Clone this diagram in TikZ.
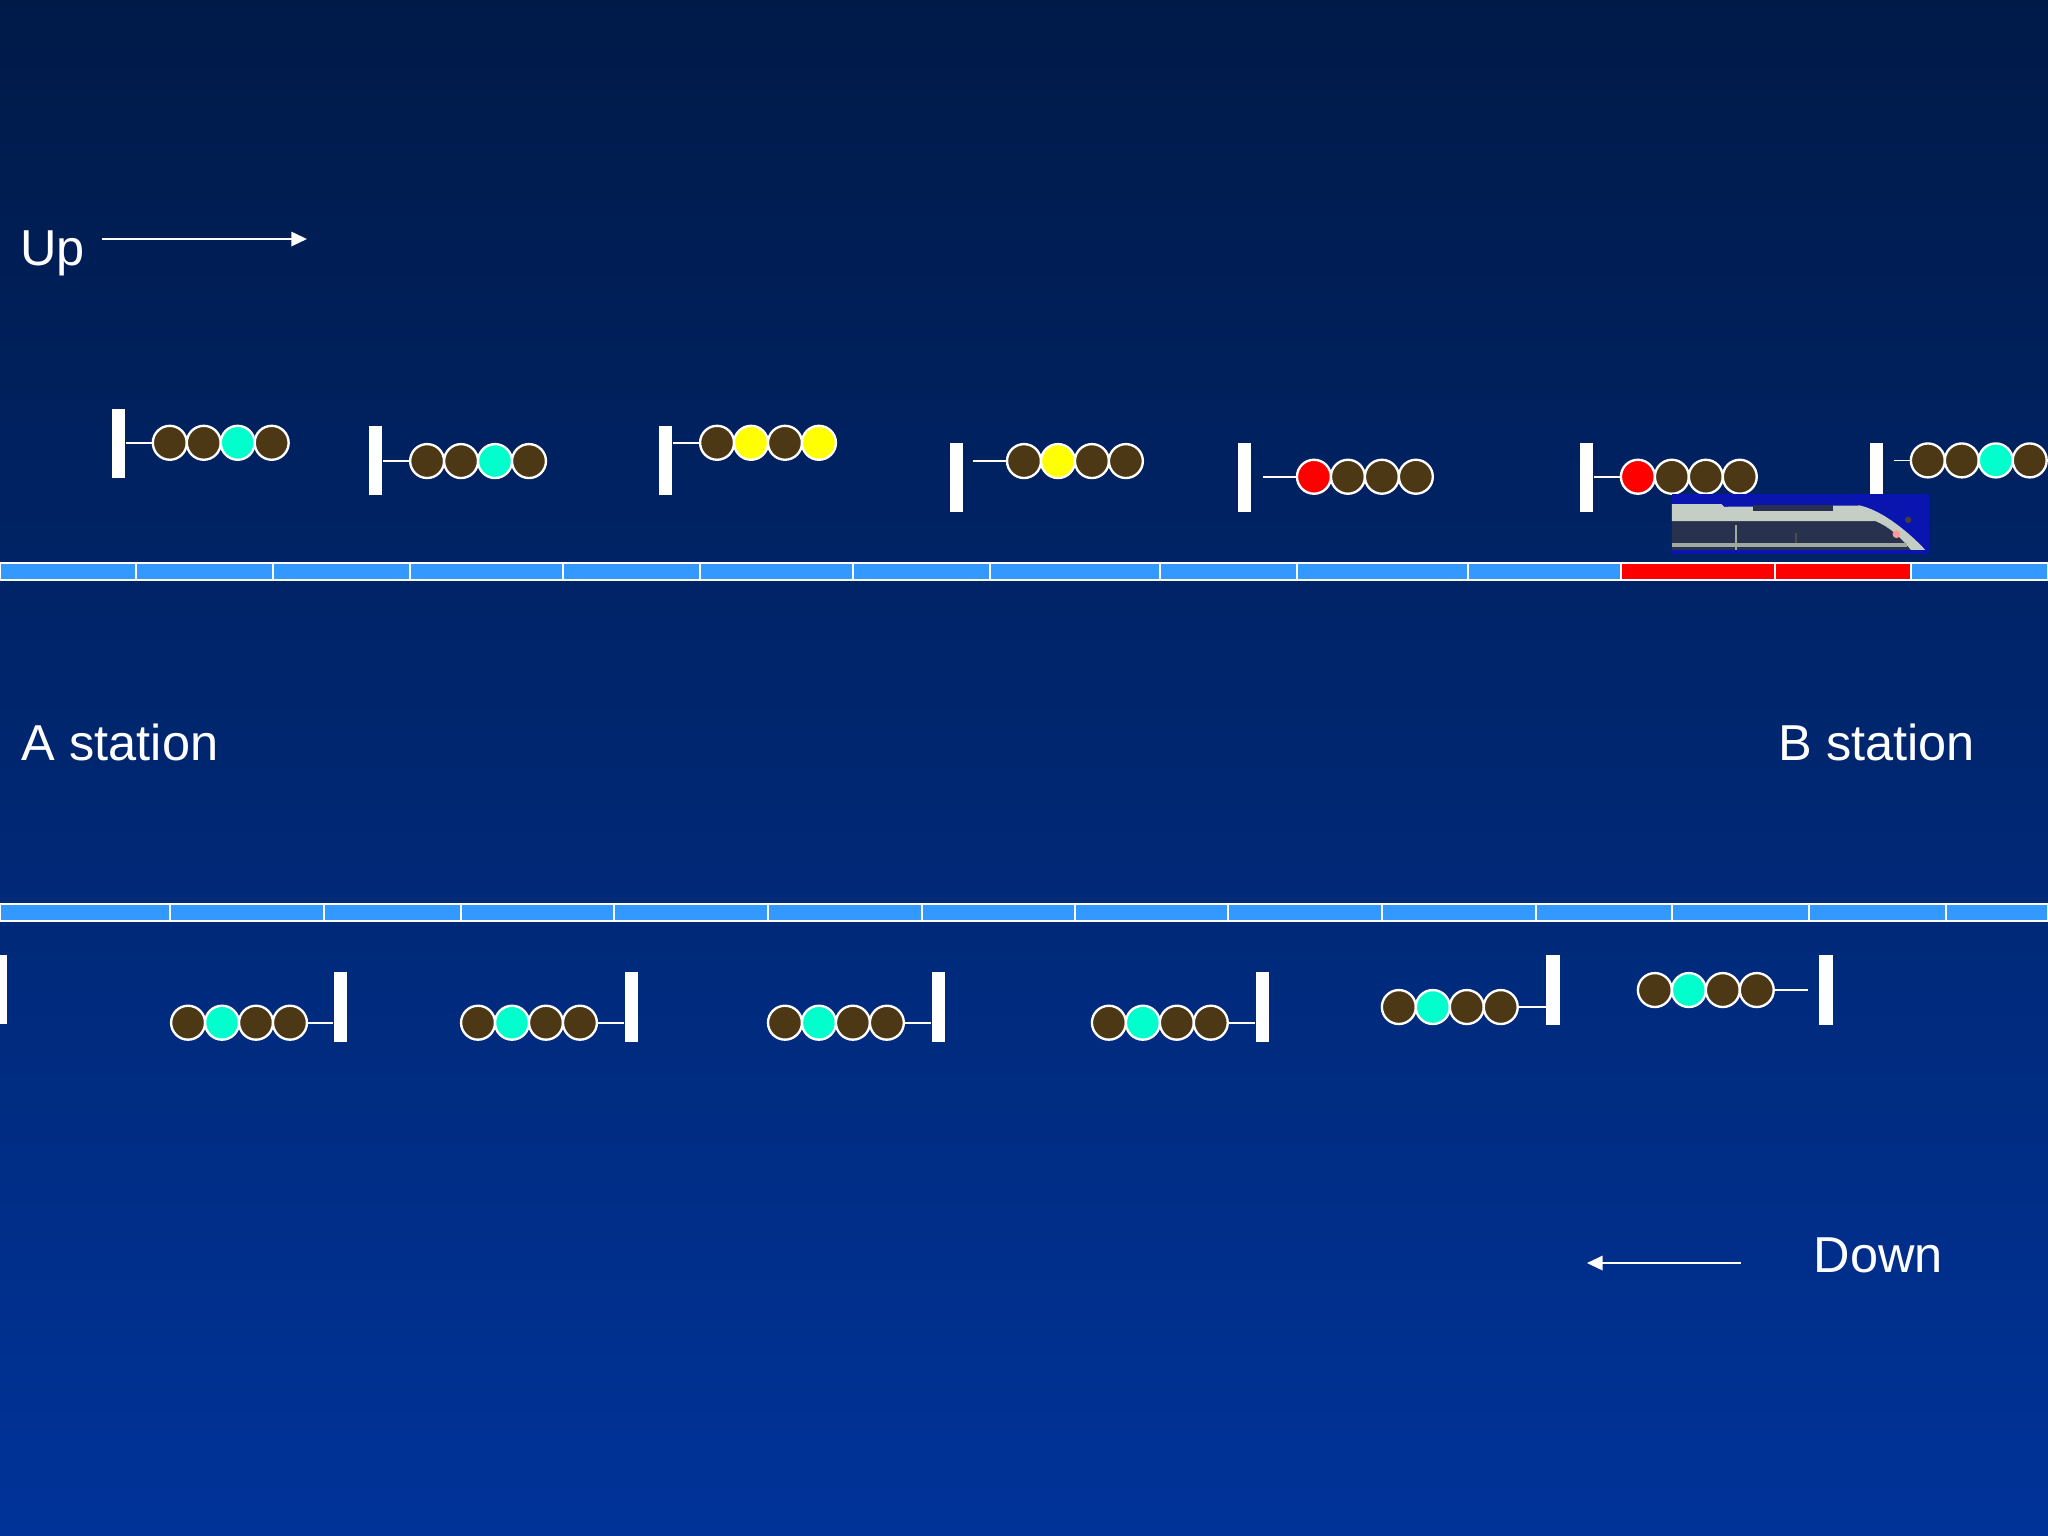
\documentclass[tikz,border=0pt]{standalone}
\usepackage{fontspec}
\setmainfont{Liberation Sans}
\usetikzlibrary{arrows.meta}
\definecolor{bgtop}{RGB}{0,26,72}
\definecolor{bgbot}{RGB}{0,51,153}
\definecolor{trackblue}{RGB}{51,153,255}
\definecolor{lampbrown}{RGB}{77,56,22}
\definecolor{lampcyan}{RGB}{0,255,204}
\definecolor{lampyellow}{RGB}{255,255,0}
\definecolor{lampred}{RGB}{255,0,0}
\definecolor{trainbg}{RGB}{10,20,175}
\definecolor{trainlight}{RGB}{196,206,196}
\definecolor{traindark}{RGB}{40,50,78}
\definecolor{trainline}{RGB}{160,170,160}
\tikzset{
  lamp/.style={circle, draw=white, line width=0.18mm, minimum size=2.6mm, inner sep=0pt, fill=#1},
  pole/.style={fill=white, draw=none, inner sep=0pt, minimum width=1mm, minimum height=5.3mm},
  wire/.style={draw=white, line width=0.13mm},
  seg/.style={fill=trackblue, draw=white, line width=0.15mm},
  busy/.style={fill=lampred, draw=white, line width=0.15mm},
  txt/.style={text=white, inner sep=0pt, font=\fontsize{11}{13}\selectfont},
  dirarrow/.style={draw=white, line width=0.16mm, -{Triangle[length=1.2mm,width=1.1mm]}}
}
\begin{document}
\begin{tikzpicture}[x=0.1mm,y=-0.1mm]
\useasboundingbox (0,0) rectangle (1568,1176);
\shade[top color=bgtop, bottom color=bgbot] (0,0) rectangle (1568,1176);

% ---------- tracks ----------
\foreach \a/\b in {0/104,104/209,209/314,314/431,431/536,536/653,653/758,758/888,888/993,993/1124,1124/1241,1463/1568}
  \draw[seg] (\a,431) rectangle (\b,444);
\foreach \a/\b in {1241/1359,1359/1463}
  \draw[busy] (\a,431) rectangle (\b,444);
\foreach \a/\b in {0/130,130/248,248/353,353/470,470/588,588/706,706/823,823/940,940/1058,1058/1176,1176/1280,1280/1385,1385/1490,1490/1568}
  \draw[seg] (\a,692) rectangle (\b,705);

% ---------- up signals ----------
% 1
\node[pole] (u1p) at (91,339.5) {};
\foreach \c [count=\i from 0] in {lampbrown,lampbrown,lampcyan,lampbrown}
  \node[lamp=\c] (u1l\i) at (130+26*\i,339) {};
\draw[wire] (u1p.east |- u1l0) -- (u1l0.west);
% 2
\node[pole] (u2p) at (287.5,352.5) {};
\foreach \c [count=\i from 0] in {lampbrown,lampbrown,lampcyan,lampbrown}
  \node[lamp=\c] (u2l\i) at (327+26*\i,353) {};
\draw[wire] (u2p.east |- u2l0) -- (u2l0.west);
% 3
\node[pole] (u3p) at (509.5,352.5) {};
\foreach \c [count=\i from 0] in {lampbrown,lampyellow,lampbrown,lampyellow}
  \node[lamp=\c] (u3l\i) at (549+26*\i,339) {};
\draw[wire] (u3p.east |- u3l0) -- (u3l0.west);
% 4
\node[pole] (u4p) at (732,365.5) {};
\foreach \c [count=\i from 0] in {lampbrown,lampyellow,lampbrown,lampbrown}
  \node[lamp=\c] (u4l\i) at (784+26*\i,353) {};
\coordinate (u4w) at (745,353);
\draw[wire] (u4w) -- (u4l0.west);
% 5
\node[pole] (u5p) at (953,365.5) {};
\foreach \c [count=\i from 0] in {lampred,lampbrown,lampbrown,lampbrown}
  \node[lamp=\c] (u5l\i) at (1006+26*\i,365) {};
\coordinate (u5w) at (967,365);
\draw[wire] (u5w) -- (u5l0.west);
% 6
\node[pole] (u6p) at (1215,365.5) {};
\foreach \c [count=\i from 0] in {lampred,lampbrown,lampbrown,lampbrown}
  \node[lamp=\c] (u6l\i) at (1254+26*\i,365) {};
\draw[wire] (u6p.east |- u6l0) -- (u6l0.west);
% 7
\node[pole] (u7p) at (1437,365.5) {};
\foreach \c [count=\i from 0] in {lampbrown,lampbrown,lampcyan,lampbrown}
  \node[lamp=\c] (u7l\i) at (1476+26*\i,352.5) {};
\coordinate (u7w) at (1450,352.5);
\draw[wire] (u7w) -- (u7l0.west);

% ---------- down signals ----------
\node[pole] (d0p) at (0,757.5) {};
% 1
\node[pole] (d1p) at (261,771) {};
\foreach \c [count=\i from 0] in {lampbrown,lampcyan,lampbrown,lampbrown}
  \node[lamp=\c] (d1l\i) at (144+26*\i,783) {};
\draw[wire] (d1l3.east) -- (d1p.west |- d1l3);
% 2
\node[pole] (d2p) at (483.5,771) {};
\foreach \c [count=\i from 0] in {lampbrown,lampcyan,lampbrown,lampbrown}
  \node[lamp=\c] (d2l\i) at (366+26*\i,783) {};
\draw[wire] (d2l3.east) -- (d2p.west |- d2l3);
% 3
\node[pole] (d3p) at (718.5,771) {};
\foreach \c [count=\i from 0] in {lampbrown,lampcyan,lampbrown,lampbrown}
  \node[lamp=\c] (d3l\i) at (601+26*\i,783) {};
\draw[wire] (d3l3.east) -- (d3p.west |- d3l3);
% 4
\node[pole] (d4p) at (966.5,771) {};
\foreach \c [count=\i from 0] in {lampbrown,lampcyan,lampbrown,lampbrown}
  \node[lamp=\c] (d4l\i) at (849+26*\i,783) {};
\draw[wire] (d4l3.east) -- (d4p.west |- d4l3);
% 5
\node[pole] (d5p) at (1189,758) {};
\foreach \c [count=\i from 0] in {lampbrown,lampcyan,lampbrown,lampbrown}
  \node[lamp=\c] (d5l\i) at (1071+26*\i,771) {};
\draw[wire] (d5l3.east) -- (d5p.west |- d5l3);
% 6
\node[pole] (d6p) at (1398,758) {};
\foreach \c [count=\i from 0] in {lampbrown,lampcyan,lampbrown,lampbrown}
  \node[lamp=\c] (d6l\i) at (1267+26*\i,758) {};
\coordinate (d6w) at (1384,758);
\draw[wire] (d6l3.east) -- (d6w);

% ---------- train ----------
\fill[trainbg] (1280,378) rectangle (1477,424);
\fill[traindark] (1280,398) -- (1438,398) .. controls (1452,405) and (1464,413) .. (1472,421) -- (1280,421) -- cycle;
\fill[trainlight] (1280,386) -- (1318,386) -- (1320,388) -- (1424,387) .. controls (1442,391) and (1463,409) .. (1474,421) -- (1463,421) .. controls (1455,411) and (1446,403) .. (1436,399) -- (1280,399) -- cycle;
\fill[traindark] (1342,387) rectangle (1403,391);
\fill[trainline] (1280,416) rectangle (1460,418.5);
\draw[trainline, line width=0.1mm] (1329,402) -- (1329,421);
\draw[black!70, line width=0.1mm] (1375,408) -- (1375,416);
\fill[black!75] (1461,398) circle (2.5);
\fill[pink!80!red] (1452,409) circle (3);

% ---------- labels ----------
\node[txt, anchor=base west] (up) at (15,203) {Up};
\coordinate (upa) at (78,183);
\coordinate (upb) at (235,183);
\draw[dirarrow] (upa) -- (upb);

\node[txt, anchor=base west] (asta) at (16,582) {A station};
\node[txt, anchor=base west] (bsta) at (1361,582) {B station};

\node[txt, anchor=base west] (down) at (1388,974) {Down};
\coordinate (dna) at (1333,967);
\coordinate (dnb) at (1215,967);
\draw[dirarrow] (dna) -- (dnb);
\end{tikzpicture}
\end{document}
